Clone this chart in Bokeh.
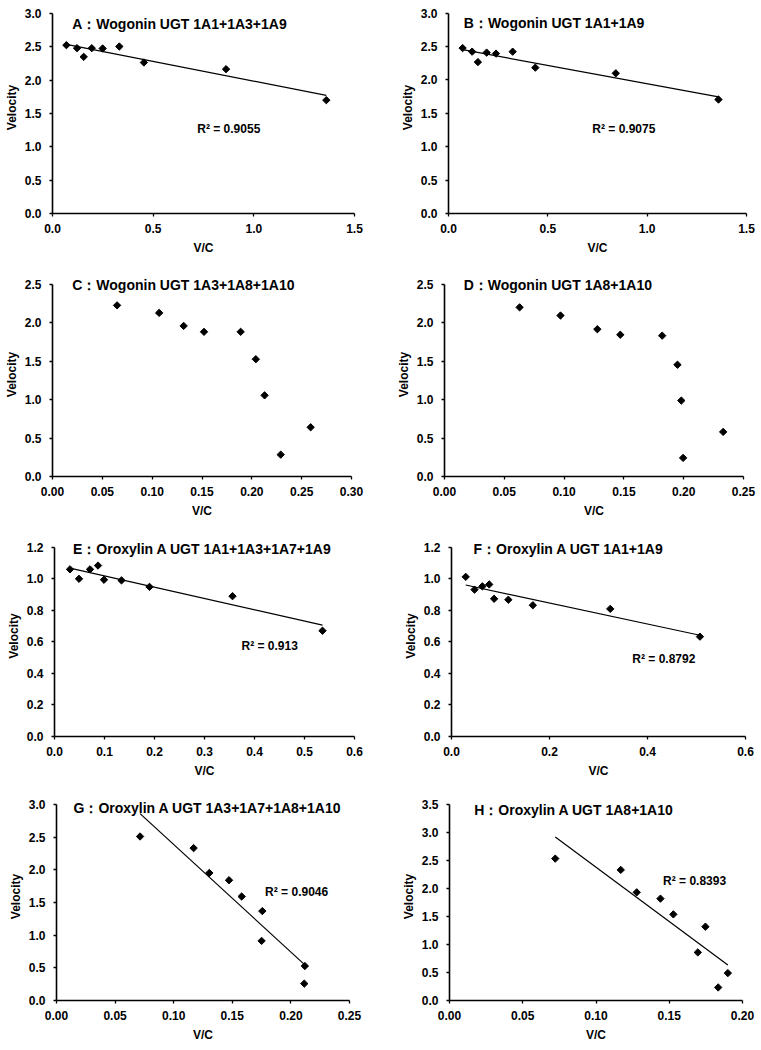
import numpy as np
from bokeh.plotting import figure
from bokeh.layouts import row, column
from bokeh.models import Range1d, FixedTicker, NumeralTickFormatter, Label
from bokeh.embed import file_html
from bokeh.resources import INLINE

FONT = "Liberation Sans"

# ---------------- data ----------------
a_x = [0.069, 0.122, 0.155, 0.195, 0.249, 0.332, 0.454, 0.862, 1.360]
a_y = [2.525, 2.480, 2.350, 2.480, 2.475, 2.505, 2.265, 2.165, 1.700]

b_x = [0.071, 0.119, 0.148, 0.192, 0.239, 0.323, 0.437, 0.842, 1.359]
b_y = [2.478, 2.424, 2.268, 2.410, 2.395, 2.424, 2.185, 2.100, 1.707]

c_x = [0.0648, 0.107, 0.1316, 0.152, 0.1888, 0.204, 0.2128, 0.229, 0.259]
c_y = [2.225, 2.127, 1.958, 1.881, 1.881, 1.525, 1.055, 0.284, 0.640]

d_x = [0.0628, 0.097, 0.1278, 0.147, 0.182, 0.1948, 0.198, 0.1995, 0.233]
d_y = [2.199, 2.093, 1.915, 1.843, 1.831, 1.453, 0.987, 0.242, 0.580]

e_x = [0.031, 0.049, 0.071, 0.087, 0.099, 0.134, 0.190, 0.356, 0.536]
e_y = [1.059, 0.999, 1.059, 1.083, 0.993, 0.989, 0.948, 0.889, 0.670]

f_x = [0.029, 0.047, 0.063, 0.077, 0.087, 0.116, 0.166, 0.324, 0.507]
f_y = [1.012, 0.931, 0.952, 0.964, 0.873, 0.867, 0.832, 0.809, 0.633]

g_x = [0.0713, 0.117, 0.1304, 0.1472, 0.158, 0.1756, 0.175, 0.2119, 0.2114]
g_y = [2.509, 2.331, 1.951, 1.840, 1.591, 1.368, 0.912, 0.527, 0.258]

h_x = [0.0722, 0.1169, 0.1278, 0.144, 0.1528, 0.1747, 0.1695, 0.190, 0.1834]
h_y = [2.534, 2.332, 1.932, 1.819, 1.538, 1.318, 0.859, 0.489, 0.233]

titles = [
    "A\uff1aWogonin UGT 1A1+1A3+1A9",
    "B\uff1aWogonin UGT 1A1+1A9",
    "C\uff1aWogonin UGT 1A3+1A8+1A10",
    "D\uff1aWogonin UGT 1A8+1A10",
    "E\uff1aOroxylin A UGT 1A1+1A3+1A7+1A9",
    "F\uff1aOroxylin A UGT 1A1+1A9",
    "G\uff1aOroxylin A UGT 1A3+1A7+1A8+1A10",
    "H\uff1aOroxylin A UGT 1A8+1A10",
]
r2_texts = ["R\u00b2 = 0.9055", "R\u00b2 = 0.9075", None, None,
            "R\u00b2 = 0.913", "R\u00b2 = 0.8792", "R\u00b2 = 0.9046", "R\u00b2 = 0.8393"]

# axis ticks
a_xticks = [0, 0.5, 1.0, 1.5]
a_yticks = [0, 0.5, 1.0, 1.5, 2.0, 2.5, 3.0]
c_xticks = [0, 0.05, 0.10, 0.15, 0.20, 0.25, 0.30]
c_yticks = [0, 0.5, 1.0, 1.5, 2.0, 2.5]
d_xticks = [0, 0.05, 0.10, 0.15, 0.20, 0.25]
e_xticks = [0, 0.1, 0.2, 0.3, 0.4, 0.5, 0.6]
f_xticks = [0, 0.2, 0.4, 0.6]
ef_yticks = [0, 0.2, 0.4, 0.6, 0.8, 1.0, 1.2]
g_xticks = [0, 0.05, 0.10, 0.15, 0.20, 0.25]
g_yticks = [0, 0.5, 1.0, 1.5, 2.0, 2.5, 3.0]
h_xticks = [0, 0.05, 0.10, 0.15, 0.20]
h_yticks = [0, 0.5, 1.0, 1.5, 2.0, 2.5, 3.0, 3.5]


def panel(x, y, xticks, yticks, xfmt, title, title_xy, r2, r2_xy, fit,
          w, h, bl, br, bt, bb, pad=12):
    ytop = yticks[-1]
    h0 = h - bt - bb                  # pixel height between tick 0 and top tick
    y_end = ytop * (h0 + pad) / h0    # headroom above the top tick for the title
    p = figure(width=w, height=h, output_backend="svg", toolbar_location=None,
               x_range=Range1d(0, xticks[-1]), y_range=Range1d(0, y_end),
               min_border_left=bl, min_border_right=br,
               min_border_top=bt - pad, min_border_bottom=bb,
               background_fill_color="white", border_fill_color="white")
    p.outline_line_color = None
    p.grid.visible = False
    p.xaxis.ticker = FixedTicker(ticks=xticks)
    p.yaxis.ticker = FixedTicker(ticks=yticks)
    p.yaxis.bounds = (0, ytop)
    p.xaxis.formatter = NumeralTickFormatter(format=xfmt)
    p.yaxis.formatter = NumeralTickFormatter(format="0.0")
    for ax in (p.xaxis[0], p.yaxis[0]):
        ax.axis_line_color = "black"
        ax.axis_line_width = 1.6
        ax.major_tick_line_color = "black"
        ax.major_tick_line_width = 1.3
        ax.major_tick_in = 0
        ax.major_tick_out = 3
        ax.minor_tick_line_color = None
        ax.major_label_text_font = FONT
        ax.major_label_text_font_style = "bold"
        ax.major_label_text_font_size = "12px"
        ax.major_label_text_color = "black"
        ax.axis_label_text_font = FONT
        ax.axis_label_text_font_style = "bold"
        ax.axis_label_text_font_size = "12px"
        ax.axis_label_text_color = "black"
    p.xaxis.axis_label = "V/C"
    p.yaxis.axis_label = "Velocity"
    p.xaxis.major_label_standoff = 7
    p.xaxis.axis_label_standoff = 5
    p.yaxis.major_label_standoff = 8
    p.yaxis.axis_label_standoff = 3

    if fit:
        coef = np.polyfit(x, y, 1)
        xs = np.array([min(x), max(x)])
        p.line(xs, np.polyval(coef, xs), line_color="black", line_width=1.2)
    p.scatter(x, y, marker="square", angle=np.pi / 4, size=5.2,
              fill_color="black", line_color="black")

    p.add_layout(Label(x=title_xy[0], y=title_xy[1], text=title,
                       text_font=FONT, text_font_style="bold",
                       text_font_size="14px", text_baseline="middle",
                       text_color="black"))
    if r2:
        p.add_layout(Label(x=r2_xy[0], y=r2_xy[1], text=r2,
                           text_font=FONT, text_font_style="bold",
                           text_font_size="12px", text_baseline="middle",
                           text_color="black"))
    return p


pA = panel(a_x, a_y, a_xticks, a_yticks, "0.0", titles[0], (0.098, 2.85),
           r2_texts[0], (0.719, 1.275), True, 380, 260, 52, 26, 13, 47)
pB = panel(b_x, b_y, a_xticks, a_yticks, "0.0", titles[1], (0.077, 2.85),
           r2_texts[1], (0.724, 1.263), True, 381, 260, 68, 15, 13, 42)
pC = panel(c_x, c_y, c_xticks, c_yticks, "0.00", titles[2], (0.0198, 2.49),
           None, None, False, 380, 260, 52, 29, 23, 40)
pD = panel(d_x, d_y, d_xticks, c_yticks, "0.00", titles[3], (0.016, 2.49),
           None, None, False, 381, 260, 64, 18, 24, 39)
pE = panel(e_x, e_y, e_xticks, ef_yticks, "0.0", titles[4], (0.037, 1.19),
           r2_texts[4], (0.374, 0.573), True, 380, 260, 54, 26, 26, 38)
pF = panel(f_x, f_y, f_xticks, ef_yticks, "0.0", titles[5], (0.045, 1.19),
           r2_texts[5], (0.369, 0.49), True, 381, 260, 71, 16, 27, 39)
pG = panel(g_x, g_y, g_xticks, g_yticks, "0.00", titles[6], (0.0145, 2.94),
           r2_texts[6], (0.178, 1.657), True, 380, 268, 56, 31, 24, 46)
pH = panel(h_x, h_y, h_xticks, h_yticks, "0.00", titles[7], (0.0169, 3.41),
           r2_texts[7], (0.1458, 2.135), True, 381, 268, 69, 19, 24, 48)

layout = column(row(pA, pB, spacing=0), row(pC, pD, spacing=0),
                row(pE, pF, spacing=0), row(pG, pH, spacing=0), spacing=0)

open("out.html", "w").write(file_html(layout, INLINE))
